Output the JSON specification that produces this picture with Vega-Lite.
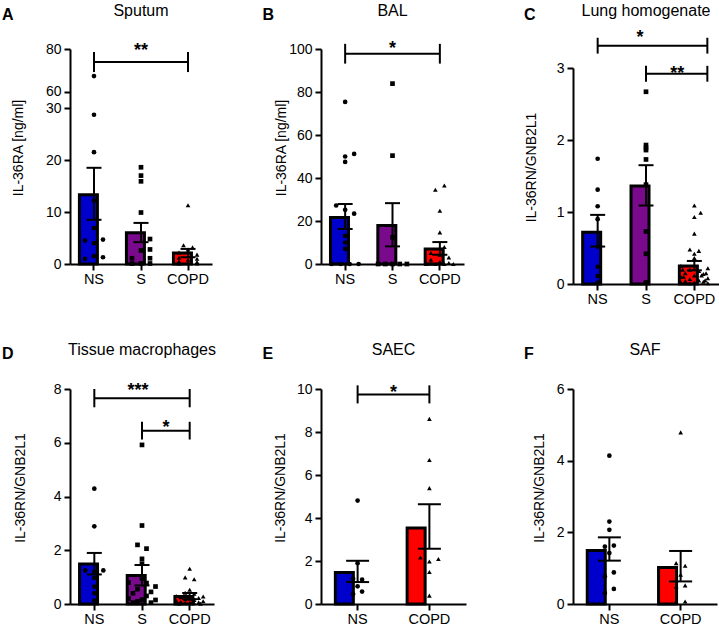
{
"$schema": "https://vega.github.io/schema/vega-lite/v6.json",
"background": "white",
"padding": {"left": 1, "top": 3, "right": 0, "bottom": 0},
"columns": 3,
"bounds": "flush",
"align": "each",
"spacing": {"row": 105, "column": 107},
"resolve": {"scale": {"xOffset": "independent"}},
"config": {
  "view": {"stroke": null},
  "font": "Liberation Sans",
  "title": {"font": "Liberation Sans", "fontSize": 16, "fontWeight": "normal", "color": "black", "baseline": "alphabetic", "offset": -13, "frame": "group", "anchor": "middle"},
  "axis": {"labelFont": "Liberation Sans", "titleFont": "Liberation Sans", "labelColor": "black", "titleColor": "black", "domainColor": "black", "tickColor": "black", "domainWidth": 2, "tickWidth": 2, "tickSize": 6, "grid": false, "labelOverlap": false},
  "axisX": {"labelAngle": 0, "labelFontSize": 14.5, "labelPadding": 2, "titleAngle": 0, "titleAlign": "left", "titleBaseline": "alphabetic", "titleFontSize": 16, "titleFontWeight": "bold"},
  "axisY": {"labelFontSize": 14, "labelPadding": 3, "titleFontSize": 14, "titleFontWeight": "normal", "format": "d", "labelOverlap": false},
  "text": {"font": "Liberation Sans", "fontSize": 18, "fontWeight": "bold", "color": "black"}
},
"datasets": {
  "bars_A": [{"g":"NS","mean":13.3,"lo":8.5,"hi":18.5},{"g":"S","mean":6.0,"lo":4.2,"hi":7.9},{"g":"COPD","mean":2.1,"lo":1.3,"hi":2.9}],
  "pts_A": [
    {"g":"NS","v":67.3,"s":0},{"g":"NS","v":28.7,"s":0},{"g":"NS","v":21.5,"s":0},{"g":"NS","v":12.2,"s":0},{"g":"NS","v":6.9,"s":0},{"g":"NS","v":4.5,"s":-1},{"g":"NS","v":4.0,"s":0},{"g":"NS","v":4.7,"s":1},{"g":"NS","v":1.0,"s":-1},{"g":"NS","v":1.5,"s":0},{"g":"NS","v":1.3,"s":1},
    {"g":"S","v":18.6,"s":0},{"g":"S","v":17.0,"s":0},{"g":"S","v":15.9,"s":0},{"g":"S","v":9.9,"s":0},{"g":"S","v":4.8,"s":1},{"g":"S","v":2.6,"s":0},{"g":"S","v":2.8,"s":1},{"g":"S","v":1.1,"s":-1},{"g":"S","v":1.1,"s":1},{"g":"S","v":0.1,"s":-1},{"g":"S","v":0.1,"s":0},{"g":"S","v":0.1,"s":1},
    {"g":"COPD","v":11.3,"s":0},{"g":"COPD","v":3.6,"s":-0.5},{"g":"COPD","v":3.2,"s":0.5},{"g":"COPD","v":2.8,"s":0},{"g":"COPD","v":2.2,"s":-1},{"g":"COPD","v":1.8,"s":1},{"g":"COPD","v":1.5,"s":0},{"g":"COPD","v":1.2,"s":-1},{"g":"COPD","v":1.0,"s":1},{"g":"COPD","v":0.8,"s":0},{"g":"COPD","v":0.5,"s":-1},{"g":"COPD","v":0.4,"s":1},{"g":"COPD","v":0.2,"s":0},{"g":"COPD","v":0.1,"s":-1},{"g":"COPD","v":0.1,"s":1}],
  "brH_A": [{"g":"NS","g2":"COPD","y":73.9}],
  "brV_A": [{"g":"NS","lo":69.2,"hi":78.6},{"g":"COPD","lo":69.2,"hi":78.6}],
  "bars_B": [{"g":"NS","mean":21.6,"lo":16.3,"hi":27.9},{"g":"S","mean":17.9,"lo":8.2,"hi":28.3},{"g":"COPD","mean":7.0,"lo":4.3,"hi":10.2}],
  "pts_B": [
    {"g":"NS","v":75.4,"s":0},{"g":"NS","v":51.2,"s":1},{"g":"NS","v":50.0,"s":0},{"g":"NS","v":47.5,"s":0},{"g":"NS","v":27.2,"s":-1},{"g":"NS","v":25.2,"s":0},{"g":"NS","v":23.4,"s":1},{"g":"NS","v":13.1,"s":0},{"g":"NS","v":10.0,"s":0},{"g":"NS","v":7.0,"s":0},{"g":"NS","v":0,"s":-1.5},{"g":"NS","v":0,"s":-0.5},{"g":"NS","v":0,"s":0.5},{"g":"NS","v":0,"s":1.5},
    {"g":"S","v":83.9,"s":0},{"g":"S","v":50.4,"s":0},{"g":"S","v":12.4,"s":0},{"g":"S","v":0,"s":-1.6},{"g":"S","v":0,"s":-0.8},{"g":"S","v":0,"s":0},{"g":"S","v":0,"s":0.8},{"g":"S","v":0,"s":1.6},
    {"g":"COPD","v":36.5,"s":0.5},{"g":"COPD","v":34.5,"s":-0.5},{"g":"COPD","v":24.8,"s":0},{"g":"COPD","v":14.7,"s":0},{"g":"COPD","v":7.9,"s":0.5},{"g":"COPD","v":5.1,"s":-1},{"g":"COPD","v":4.3,"s":0},{"g":"COPD","v":3.0,"s":1},{"g":"COPD","v":2.0,"s":-1},{"g":"COPD","v":1.0,"s":0},{"g":"COPD","v":0.5,"s":1},{"g":"COPD","v":0.2,"s":-1},{"g":"COPD","v":0,"s":-1.5},{"g":"COPD","v":0,"s":-0.5},{"g":"COPD","v":0,"s":0.5},{"g":"COPD","v":0,"s":1.5}],
  "brH_B": [{"g":"NS","g2":"COPD","y":97.8}],
  "brV_B": [{"g":"NS","lo":93.2,"hi":102.4},{"g":"COPD","lo":93.2,"hi":102.4}],
  "bars_C": [{"g":"NS","mean":0.72,"lo":0.52,"hi":0.96},{"g":"S","mean":1.36,"lo":1.09,"hi":1.65},{"g":"COPD","mean":0.25,"lo":0.19,"hi":0.32}],
  "pts_C": [
    {"g":"NS","v":1.74,"s":0},{"g":"NS","v":1.31,"s":0},{"g":"NS","v":1.08,"s":0},{"g":"NS","v":0.90,"s":0},{"g":"NS","v":0.52,"s":0},{"g":"NS","v":0.24,"s":0},{"g":"NS","v":0.11,"s":0},{"g":"NS","v":0.02,"s":0},
    {"g":"S","v":2.67,"s":0},{"g":"S","v":1.93,"s":0},{"g":"S","v":1.89,"s":0},{"g":"S","v":1.86,"s":0},{"g":"S","v":1.73,"s":0},{"g":"S","v":1.38,"s":0},{"g":"S","v":0.73,"s":0},{"g":"S","v":0.42,"s":0},{"g":"S","v":0.02,"s":0},
    {"g":"COPD","v":1.09,"s":0},{"g":"COPD","v":0.99,"s":0.7},{"g":"COPD","v":0.93,"s":0},{"g":"COPD","v":0.70,"s":0},{"g":"COPD","v":0.48,"s":-0.5},{"g":"COPD","v":0.46,"s":0.5},{"g":"COPD","v":0.42,"s":0},{"g":"COPD","v":0.36,"s":0},
    {"g":"COPD","v":0.25,"s":-1.5},{"g":"COPD","v":0.22,"s":1.5},{"g":"COPD","v":0.20,"s":-0.5},{"g":"COPD","v":0.18,"s":0.5},{"g":"COPD","v":0.15,"s":-1},{"g":"COPD","v":0.14,"s":1},{"g":"COPD","v":0.12,"s":0},{"g":"COPD","v":0.10,"s":-1.5},{"g":"COPD","v":0.08,"s":1.5},{"g":"COPD","v":0.07,"s":-0.5},{"g":"COPD","v":0.05,"s":0.5},{"g":"COPD","v":0.04,"s":-1},{"g":"COPD","v":0.03,"s":1},{"g":"COPD","v":0.02,"s":0},{"g":"COPD","v":0.02,"s":-1.5},{"g":"COPD","v":0.01,"s":1.5},{"g":"COPD","v":0.01,"s":-0.5},{"g":"COPD","v":0.05,"s":1.2},{"g":"COPD","v":0.10,"s":-1.2},{"g":"COPD","v":0.15,"s":1.3},{"g":"COPD","v":0.20,"s":-1.3},{"g":"COPD","v":0.12,"s":0.8}],
  "brH_C": [{"g":"NS","g2":"COPD","y":3.31},{"g":"S","g2":"COPD","y":2.92}],
  "brVl_C": [{"g":"NS","lo":3.2,"hi":3.42},{"g":"S","lo":2.81,"hi":3.03}],
  "brVr_C": [{"g":"COPD","lo":3.2,"hi":3.42},{"g":"COPD","lo":2.81,"hi":3.03}],
  "bars_D": [{"g":"NS","mean":1.49,"lo":1.10,"hi":1.90},{"g":"S","mean":1.06,"lo":0.69,"hi":1.45},{"g":"COPD","mean":0.28,"lo":0.18,"hi":0.41}],
  "pts_D": [
    {"g":"NS","v":4.29,"s":0},{"g":"NS","v":2.89,"s":0},{"g":"NS","v":1.25,"s":-1},{"g":"NS","v":1.21,"s":0},{"g":"NS","v":1.25,"s":1},{"g":"NS","v":0.97,"s":0},{"g":"NS","v":0.65,"s":0},{"g":"NS","v":0.40,"s":0},{"g":"NS","v":0.13,"s":0},
    {"g":"S","v":5.92,"s":0},{"g":"S","v":2.92,"s":0},{"g":"S","v":2.20,"s":-0.5},{"g":"S","v":2.06,"s":0.5},{"g":"S","v":1.68,"s":0},{"g":"S","v":1.50,"s":0},{"g":"S","v":0.95,"s":0},{"g":"S","v":0.80,"s":-1.5},{"g":"S","v":0.78,"s":0.5},{"g":"S","v":0.65,"s":1.5},{"g":"S","v":0.55,"s":-0.5},{"g":"S","v":0.45,"s":1},{"g":"S","v":0.40,"s":-1},{"g":"S","v":0.30,"s":0.5},{"g":"S","v":0.20,"s":-1.5},{"g":"S","v":0.16,"s":0},{"g":"S","v":0.15,"s":1.5},{"g":"S","v":0.10,"s":-0.5},{"g":"S","v":0.05,"s":1},{"g":"S","v":0.05,"s":-1},
    {"g":"COPD","v":1.31,"s":0},{"g":"COPD","v":0.99,"s":-0.5},{"g":"COPD","v":0.92,"s":0.5},{"g":"COPD","v":0.53,"s":0},{"g":"COPD","v":0.42,"s":-0.5},{"g":"COPD","v":0.38,"s":0.5},{"g":"COPD","v":0.30,"s":-1.5},{"g":"COPD","v":0.28,"s":1.5},{"g":"COPD","v":0.25,"s":-1},{"g":"COPD","v":0.22,"s":1},{"g":"COPD","v":0.20,"s":0},{"g":"COPD","v":0.18,"s":-0.5},{"g":"COPD","v":0.15,"s":0.5},{"g":"COPD","v":0.12,"s":-1.5},{"g":"COPD","v":0.10,"s":1.5},{"g":"COPD","v":0.08,"s":-1},{"g":"COPD","v":0.06,"s":1},{"g":"COPD","v":0.05,"s":0},{"g":"COPD","v":0.04,"s":-0.5},{"g":"COPD","v":0.03,"s":0.5},{"g":"COPD","v":0.02,"s":-1.2},{"g":"COPD","v":0.01,"s":1.2}],
  "brH_D": [{"g":"NS","g2":"COPD","y":7.66},{"g":"S","g2":"COPD","y":6.45}],
  "brV_D": [{"g":"NS","lo":7.32,"hi":8.0},{"g":"COPD","lo":7.32,"hi":8.0},{"g":"S","lo":6.12,"hi":6.78},{"g":"COPD","lo":6.12,"hi":6.78}],
  "bars_E": [{"g":"NS","mean":1.47,"lo":1.02,"hi":2.01},{"g":"COPD","mean":3.53,"lo":2.57,"hi":4.64}],
  "pts_E": [
    {"g":"NS","v":4.81,"s":0},{"g":"NS","v":1.90,"s":0},{"g":"NS","v":1.18,"s":-0.5},{"g":"NS","v":1.13,"s":0.5},{"g":"NS","v":0.82,"s":0},{"g":"NS","v":0.58,"s":0.5},{"g":"NS","v":0.46,"s":-0.5},
    {"g":"COPD","v":8.61,"s":0},{"g":"COPD","v":6.70,"s":0},{"g":"COPD","v":5.39,"s":0},{"g":"COPD","v":2.16,"s":-1},{"g":"COPD","v":1.98,"s":0},{"g":"COPD","v":2.09,"s":1},{"g":"COPD","v":1.49,"s":0},{"g":"COPD","v":0.39,"s":0}],
  "brH_E": [{"g":"NS","g2":"COPD","y":9.75}],
  "brV_E": [{"g":"NS","lo":9.33,"hi":10.17},{"g":"COPD","lo":9.33,"hi":10.17}],
  "bars_F": [{"g":"NS","mean":1.49,"lo":1.21,"hi":1.86},{"g":"COPD","mean":1.02,"lo":0.63,"hi":1.48}],
  "pts_F": [
    {"g":"NS","v":4.14,"s":0},{"g":"NS","v":2.30,"s":0},{"g":"NS","v":2.07,"s":0},{"g":"NS","v":1.63,"s":0.5},{"g":"NS","v":1.60,"s":-0.5},{"g":"NS","v":1.42,"s":0},{"g":"NS","v":0.88,"s":0.5},{"g":"NS","v":0.77,"s":-0.5},{"g":"NS","v":0.42,"s":0.5},{"g":"NS","v":0.31,"s":-0.5},
    {"g":"COPD","v":4.79,"s":0},{"g":"COPD","v":1.14,"s":-0.5},{"g":"COPD","v":1.07,"s":0.5},{"g":"COPD","v":0.82,"s":0},{"g":"COPD","v":0.52,"s":0.5},{"g":"COPD","v":0.49,"s":-0.5},{"g":"COPD","v":0.07,"s":-0.5},{"g":"COPD","v":0.07,"s":0.5}]
},
"concat": [
  {
    "width": 142, "height": 215,
    "title": {"text": "Sputum"},
    "encoding": {"x": {"field": "g", "type": "nominal", "sort": null, "title": "A", "scale": {"domain": ["NS","S","COPD"], "paddingInner": 0.38, "paddingOuter": 0.2}, "axis": {"titleX": -68.5, "titleY": -245}}},
    "layer": [
      {"data": {"name": "bars_A"}, "mark": {"type": "bar", "stroke": "black", "strokeWidth": 3},
       "encoding": {"y": {"field": "mean", "type": "quantitative", "title": "IL-36RA [ng/ml]", "scale": {"domain": [0,30,60,80], "range": [215,59,42.7,0], "nice": false, "zero": false}, "axis": {"values": [0,10,20,30,60,80], "labelOverlap": false, "format": "d", "titlePadding": 20, "titleY": 98.5}},
                    "fill": {"field": "g", "type": "nominal", "scale": {"domain": ["NS","S","COPD"], "range": ["#0000cc","#7a0a8c","#ff0000"]}, "legend": null}}},
      {"data": {"name": "pts_A"}, "mark": {"type": "point", "filled": true, "size": 22, "color": "black", "opacity": 1},
       "encoding": {"y": {"field": "v", "type": "quantitative", "title": "IL-36RA [ng/ml]"}, "xOffset": {"field": "s", "type": "quantitative", "scale": {"domain": [-2,2], "range": [-3.42,32.58]}},
                    "shape": {"field": "g", "type": "nominal", "scale": {"domain": ["NS","S","COPD"], "range": ["circle","square","triangle-up"]}, "legend": null}}},
      {"data": {"name": "bars_A"}, "mark": {"type": "rule", "strokeWidth": 2, "color": "black"}, "encoding": {"y": {"field": "lo", "type": "quantitative", "title": "IL-36RA [ng/ml]"}, "y2": {"field": "hi"}}},
      {"data": {"name": "bars_A"}, "mark": {"type": "tick", "size": 15, "thickness": 2, "color": "black", "opacity": 1}, "encoding": {"y": {"field": "lo", "type": "quantitative", "title": "IL-36RA [ng/ml]"}}},
      {"data": {"name": "bars_A"}, "mark": {"type": "tick", "size": 15, "thickness": 2, "color": "black", "opacity": 1}, "encoding": {"y": {"field": "hi", "type": "quantitative", "title": "IL-36RA [ng/ml]"}}},
      {"data": {"name": "brH_A"}, "mark": {"type": "rule", "strokeWidth": 2, "color": "black"}, "encoding": {"x2": {"field": "g2"}, "y": {"field": "y", "type": "quantitative", "title": "IL-36RA [ng/ml]"}}},
      {"data": {"name": "brV_A"}, "mark": {"type": "rule", "strokeWidth": 2, "color": "black"}, "encoding": {"y": {"field": "lo", "type": "quantitative", "title": "IL-36RA [ng/ml]"}, "y2": {"field": "hi"}}},
      {"data": {"values": [{"g": "S", "y": 76.8, "t": "**"}]}, "mark": {"type": "text", "baseline": "alphabetic", "align": "center"}, "encoding": {"y": {"field": "y", "type": "quantitative", "title": "IL-36RA [ng/ml]"}, "text": {"field": "t"}}}
    ]
  },
  {
    "width": 143, "height": 215,
    "title": {"text": "BAL"},
    "encoding": {"x": {"field": "g", "type": "nominal", "sort": null, "title": "B", "scale": {"domain": ["NS","S","COPD"], "paddingInner": 0.38, "paddingOuter": 0.2}, "axis": {"titleX": -59, "titleY": -245}}},
    "layer": [
      {"data": {"name": "bars_B"}, "mark": {"type": "bar", "stroke": "black", "strokeWidth": 3},
       "encoding": {"y": {"field": "mean", "type": "quantitative", "title": "IL-36RA [ng/ml]", "scale": {"domain": [0,100], "nice": false, "zero": false}, "axis": {"values": [0,20,40,60,80,100], "labelOverlap": false, "format": "d", "titlePadding": 0, "titleY": 98.5}},
                    "fill": {"field": "g", "type": "nominal", "scale": {"domain": ["NS","S","COPD"], "range": ["#0000cc","#7a0a8c","#ff0000"]}, "legend": null}}},
      {"data": {"name": "pts_B"}, "mark": {"type": "point", "filled": true, "size": 22, "color": "black", "opacity": 1},
       "encoding": {"y": {"field": "v", "type": "quantitative", "title": "IL-36RA [ng/ml]"}, "xOffset": {"field": "s", "type": "quantitative", "scale": {"domain": [-2,2], "range": [-3.32,32.68]}},
                    "shape": {"field": "g", "type": "nominal", "scale": {"domain": ["NS","S","COPD"], "range": ["circle","square","triangle-up"]}, "legend": null}}},
      {"data": {"name": "bars_B"}, "mark": {"type": "rule", "strokeWidth": 2, "color": "black"}, "encoding": {"y": {"field": "lo", "type": "quantitative", "title": "IL-36RA [ng/ml]"}, "y2": {"field": "hi"}}},
      {"data": {"name": "bars_B"}, "mark": {"type": "tick", "size": 15, "thickness": 2, "color": "black", "opacity": 1}, "encoding": {"y": {"field": "lo", "type": "quantitative", "title": "IL-36RA [ng/ml]"}}},
      {"data": {"name": "bars_B"}, "mark": {"type": "tick", "size": 15, "thickness": 2, "color": "black", "opacity": 1}, "encoding": {"y": {"field": "hi", "type": "quantitative", "title": "IL-36RA [ng/ml]"}}},
      {"data": {"name": "brH_B"}, "mark": {"type": "rule", "strokeWidth": 2, "color": "black"}, "encoding": {"x2": {"field": "g2"}, "y": {"field": "y", "type": "quantitative", "title": "IL-36RA [ng/ml]"}}},
      {"data": {"name": "brV_B"}, "mark": {"type": "rule", "strokeWidth": 2, "color": "black"}, "encoding": {"y": {"field": "lo", "type": "quantitative", "title": "IL-36RA [ng/ml]"}, "y2": {"field": "hi"}}},
      {"data": {"values": [{"g": "S", "y": 97.6, "t": "*"}]}, "mark": {"type": "text", "baseline": "alphabetic", "align": "center"}, "encoding": {"y": {"field": "y", "type": "quantitative", "title": "IL-36RA [ng/ml]"}, "text": {"field": "t"}}}
    ]
  },
  {
    "width": 146, "height": 235,
    "title": {"text": "Lung homogenate"},
    "encoding": {"x": {"field": "g", "type": "nominal", "sort": null, "title": "C", "scale": {"domain": ["NS","S","COPD"], "paddingInner": 0.38, "paddingOuter": 0.2}, "axis": {"titleX": -49.5, "titleY": -265}}},
    "layer": [
      {"data": {"name": "bars_C"}, "mark": {"type": "bar", "stroke": "black", "strokeWidth": 3},
       "encoding": {"y": {"field": "mean", "type": "quantitative", "title": "IL-36RN/GNB2L1", "scale": {"domain": [0,3], "range": [235,19], "nice": false, "zero": false}, "axis": {"values": [0,1,2,3], "labelOverlap": false, "format": "d", "titlePadding": 17.5, "titleY": 118}},
                    "fill": {"field": "g", "type": "nominal", "scale": {"domain": ["NS","S","COPD"], "range": ["#0000cc","#7a0a8c","#ff0000"]}, "legend": null}}},
      {"data": {"name": "pts_C"}, "mark": {"type": "point", "filled": true, "size": 22, "color": "black", "opacity": 1},
       "encoding": {"y": {"field": "v", "type": "quantitative", "title": "IL-36RN/GNB2L1"}, "xOffset": {"field": "s", "type": "quantitative", "scale": {"domain": [-2,2], "range": [-3.01,32.99]}},
                    "shape": {"field": "g", "type": "nominal", "scale": {"domain": ["NS","S","COPD"], "range": ["circle","square","triangle-up"]}, "legend": null}}},
      {"data": {"name": "bars_C"}, "mark": {"type": "rule", "strokeWidth": 2, "color": "black"}, "encoding": {"y": {"field": "lo", "type": "quantitative", "title": "IL-36RN/GNB2L1"}, "y2": {"field": "hi"}}},
      {"data": {"name": "bars_C"}, "mark": {"type": "tick", "size": 15, "thickness": 2, "color": "black", "opacity": 1}, "encoding": {"y": {"field": "lo", "type": "quantitative", "title": "IL-36RN/GNB2L1"}}},
      {"data": {"name": "bars_C"}, "mark": {"type": "tick", "size": 15, "thickness": 2, "color": "black", "opacity": 1}, "encoding": {"y": {"field": "hi", "type": "quantitative", "title": "IL-36RN/GNB2L1"}}},
      {"data": {"name": "brH_C"}, "mark": {"type": "rule", "strokeWidth": 2, "color": "black", "x2Offset": 13}, "encoding": {"x2": {"field": "g2"}, "y": {"field": "y", "type": "quantitative", "title": "IL-36RN/GNB2L1"}}},
      {"data": {"name": "brVl_C"}, "mark": {"type": "rule", "strokeWidth": 2, "color": "black"}, "encoding": {"y": {"field": "lo", "type": "quantitative", "title": "IL-36RN/GNB2L1"}, "y2": {"field": "hi"}}},
      {"data": {"name": "brVr_C"}, "mark": {"type": "rule", "strokeWidth": 2, "color": "black", "xOffset": 13}, "encoding": {"y": {"field": "lo", "type": "quantitative", "title": "IL-36RN/GNB2L1"}, "y2": {"field": "hi"}}},
      {"data": {"values": [{"g": "S", "y": 3.35, "t": "*"}]}, "mark": {"type": "text", "baseline": "alphabetic", "align": "center", "dx": -6}, "encoding": {"y": {"field": "y", "type": "quantitative", "title": "IL-36RN/GNB2L1"}, "text": {"field": "t"}}},
      {"data": {"values": [{"g": "COPD", "y": 2.85, "t": "**"}]}, "mark": {"type": "text", "baseline": "alphabetic", "align": "center", "dx": -17}, "encoding": {"y": {"field": "y", "type": "quantitative", "title": "IL-36RN/GNB2L1"}, "text": {"field": "t"}}}
    ]
  },
  {
    "width": 144, "height": 215,
    "title": {"text": "Tissue macrophages"},
    "encoding": {"x": {"field": "g", "type": "nominal", "sort": null, "title": "D", "scale": {"domain": ["NS","S","COPD"], "paddingInner": 0.38, "paddingOuter": 0.2}, "axis": {"titleX": -68.5, "titleY": -246}}},
    "layer": [
      {"data": {"name": "bars_D"}, "mark": {"type": "bar", "stroke": "black", "strokeWidth": 3},
       "encoding": {"y": {"field": "mean", "type": "quantitative", "title": "IL-36RN/GNB2L1", "scale": {"domain": [0,8], "nice": false, "zero": false}, "axis": {"values": [0,2,4,6,8], "labelOverlap": false, "format": "d", "titlePadding": 26, "titleY": 98.5}},
                    "fill": {"field": "g", "type": "nominal", "scale": {"domain": ["NS","S","COPD"], "range": ["#0000cc","#7a0a8c","#ff0000"]}, "legend": null}}},
      {"data": {"name": "pts_D"}, "mark": {"type": "point", "filled": true, "size": 22, "color": "black", "opacity": 1},
       "encoding": {"y": {"field": "v", "type": "quantitative", "title": "IL-36RN/GNB2L1"}, "xOffset": {"field": "s", "type": "quantitative", "scale": {"domain": [-2,2], "range": [-3.22,32.78]}},
                    "shape": {"field": "g", "type": "nominal", "scale": {"domain": ["NS","S","COPD"], "range": ["circle","square","triangle-up"]}, "legend": null}}},
      {"data": {"name": "bars_D"}, "mark": {"type": "rule", "strokeWidth": 2, "color": "black"}, "encoding": {"y": {"field": "lo", "type": "quantitative", "title": "IL-36RN/GNB2L1"}, "y2": {"field": "hi"}}},
      {"data": {"name": "bars_D"}, "mark": {"type": "tick", "size": 15, "thickness": 2, "color": "black", "opacity": 1}, "encoding": {"y": {"field": "lo", "type": "quantitative", "title": "IL-36RN/GNB2L1"}}},
      {"data": {"name": "bars_D"}, "mark": {"type": "tick", "size": 15, "thickness": 2, "color": "black", "opacity": 1}, "encoding": {"y": {"field": "hi", "type": "quantitative", "title": "IL-36RN/GNB2L1"}}},
      {"data": {"name": "brH_D"}, "mark": {"type": "rule", "strokeWidth": 2, "color": "black"}, "encoding": {"x2": {"field": "g2"}, "y": {"field": "y", "type": "quantitative", "title": "IL-36RN/GNB2L1"}}},
      {"data": {"name": "brV_D"}, "mark": {"type": "rule", "strokeWidth": 2, "color": "black"}, "encoding": {"y": {"field": "lo", "type": "quantitative", "title": "IL-36RN/GNB2L1"}, "y2": {"field": "hi"}}},
      {"data": {"values": [{"g": "S", "y": 7.73, "t": "***"}]}, "mark": {"type": "text", "baseline": "alphabetic", "align": "center", "dx": -4}, "encoding": {"y": {"field": "y", "type": "quantitative", "title": "IL-36RN/GNB2L1"}, "text": {"field": "t"}}},
      {"data": {"values": [{"g": "COPD", "y": 6.36, "t": "*"}]}, "mark": {"type": "text", "baseline": "alphabetic", "align": "center", "dx": -23.8}, "encoding": {"y": {"field": "y", "type": "quantitative", "title": "IL-36RN/GNB2L1"}, "text": {"field": "t"}}}
    ]
  },
  {
    "width": 145, "height": 215,
    "title": {"text": "SAEC"},
    "encoding": {"x": {"field": "g", "type": "nominal", "sort": null, "title": "E", "scale": {"domain": ["NS","COPD"], "paddingInner": 0.38, "paddingOuter": 0.2}, "axis": {"titleX": -59, "titleY": -246}}},
    "layer": [
      {"data": {"name": "bars_E"}, "mark": {"type": "bar", "stroke": "black", "strokeWidth": 3},
       "encoding": {"y": {"field": "mean", "type": "quantitative", "title": "IL-36RN/GNB2L1", "scale": {"domain": [0,10], "nice": false, "zero": false}, "axis": {"values": [0,2,4,6,8,10], "labelOverlap": false, "format": "d", "titlePadding": 9.4, "titleY": 98.5}},
                    "fill": {"field": "g", "type": "nominal", "scale": {"domain": ["NS","COPD"], "range": ["#0000cc","#ff0000"]}, "legend": null}}},
      {"data": {"name": "pts_E"}, "mark": {"type": "point", "filled": true, "size": 22, "color": "black", "opacity": 1},
       "encoding": {"y": {"field": "v", "type": "quantitative", "title": "IL-36RN/GNB2L1"}, "xOffset": {"field": "s", "type": "quantitative", "scale": {"domain": [-2,2], "range": [4.25,40.25]}},
                    "shape": {"field": "g", "type": "nominal", "scale": {"domain": ["NS","COPD"], "range": ["circle","triangle-up"]}, "legend": null}}},
      {"data": {"name": "bars_E"}, "mark": {"type": "rule", "strokeWidth": 2, "color": "black"}, "encoding": {"y": {"field": "lo", "type": "quantitative", "title": "IL-36RN/GNB2L1"}, "y2": {"field": "hi"}}},
      {"data": {"name": "bars_E"}, "mark": {"type": "tick", "size": 23, "thickness": 2, "color": "black", "opacity": 1}, "encoding": {"y": {"field": "lo", "type": "quantitative", "title": "IL-36RN/GNB2L1"}}},
      {"data": {"name": "bars_E"}, "mark": {"type": "tick", "size": 23, "thickness": 2, "color": "black", "opacity": 1}, "encoding": {"y": {"field": "hi", "type": "quantitative", "title": "IL-36RN/GNB2L1"}}},
      {"data": {"name": "brH_E"}, "mark": {"type": "rule", "strokeWidth": 2, "color": "black"}, "encoding": {"x2": {"field": "g2"}, "y": {"field": "y", "type": "quantitative", "title": "IL-36RN/GNB2L1"}}},
      {"data": {"name": "brV_E"}, "mark": {"type": "rule", "strokeWidth": 2, "color": "black"}, "encoding": {"y": {"field": "lo", "type": "quantitative", "title": "IL-36RN/GNB2L1"}, "y2": {"field": "hi"}}},
      {"data": {"values": [{"g": "NS", "y": 9.57, "t": "*"}]}, "mark": {"type": "text", "baseline": "alphabetic", "align": "center", "dx": 35.9}, "encoding": {"y": {"field": "y", "type": "quantitative", "title": "IL-36RN/GNB2L1"}, "text": {"field": "t"}}}
    ]
  },
  {
    "width": 144, "height": 215,
    "title": {"text": "SAF"},
    "encoding": {"x": {"field": "g", "type": "nominal", "sort": null, "title": "F", "scale": {"domain": ["NS","COPD"], "paddingInner": 0.38, "paddingOuter": 0.2}, "axis": {"titleX": -49.5, "titleY": -246}}},
    "layer": [
      {"data": {"name": "bars_F"}, "mark": {"type": "bar", "stroke": "black", "strokeWidth": 3},
       "encoding": {"y": {"field": "mean", "type": "quantitative", "title": "IL-36RN/GNB2L1", "scale": {"domain": [0,6], "nice": false, "zero": false}, "axis": {"values": [0,2,4,6], "labelOverlap": false, "format": "d", "titlePadding": 10, "titleY": 98.5}},
                    "fill": {"field": "g", "type": "nominal", "scale": {"domain": ["NS","COPD"], "range": ["#0000cc","#ff0000"]}, "legend": null}}},
      {"data": {"name": "pts_F"}, "mark": {"type": "point", "filled": true, "size": 22, "color": "black", "opacity": 1},
       "encoding": {"y": {"field": "v", "type": "quantitative", "title": "IL-36RN/GNB2L1"}, "xOffset": {"field": "s", "type": "quantitative", "scale": {"domain": [-2,2], "range": [4.1,40.1]}},
                    "shape": {"field": "g", "type": "nominal", "scale": {"domain": ["NS","COPD"], "range": ["circle","triangle-up"]}, "legend": null}}},
      {"data": {"name": "bars_F"}, "mark": {"type": "rule", "strokeWidth": 2, "color": "black"}, "encoding": {"y": {"field": "lo", "type": "quantitative", "title": "IL-36RN/GNB2L1"}, "y2": {"field": "hi"}}},
      {"data": {"name": "bars_F"}, "mark": {"type": "tick", "size": 23, "thickness": 2, "color": "black", "opacity": 1}, "encoding": {"y": {"field": "lo", "type": "quantitative", "title": "IL-36RN/GNB2L1"}}},
      {"data": {"name": "bars_F"}, "mark": {"type": "tick", "size": 23, "thickness": 2, "color": "black", "opacity": 1}, "encoding": {"y": {"field": "hi", "type": "quantitative", "title": "IL-36RN/GNB2L1"}}}
    ]
  }
]
}
